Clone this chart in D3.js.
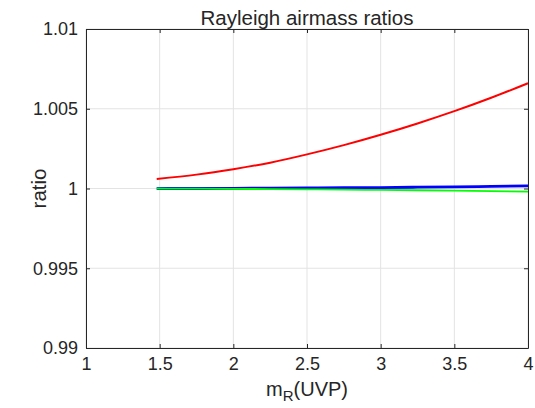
<!DOCTYPE html>
<html>
<head>
<meta charset="utf-8">
<script src="https://cdn.jsdelivr.net/npm/d3@7"></script>
<style>
  body { margin: 0; background: #fff; }
  svg text { font-family: "Liberation Sans", Arial, sans-serif; fill: #262626; }
</style>
</head>
<body>
<svg id="chart" width="535" height="408"></svg>
<script>
// airmass values (m_R(UVP)) and ratios
const mValues = [1.48, 1.75, 2.0, 2.25, 2.5, 2.75, 3.0, 3.25, 3.5, 3.75, 4.0];
const redRatio = [1.0006, 1.00087, 1.00121, 1.00162, 1.00214, 1.00272, 1.00337, 1.00408, 1.00485, 1.00569, 1.0066];
const blueRatio = [1.0, 1.0, 1.00001, 1.00002, 1.00003, 1.00005, 1.00006, 1.00008, 1.0001, 1.00013, 1.00016];
const greenRatio = [1.0, 0.99999, 0.99998, 0.99996, 0.99995, 0.99993, 0.99991, 0.99989, 0.99987, 0.99984, 0.9998];
const xTicks = [1, 1.5, 2, 2.5, 3, 3.5, 4];
const yTicks = [0.99, 0.995, 1, 1.005, 1.01];

const margin = { top: 29, right: 7, bottom: 60, left: 86 };
const width = 535 - margin.left - margin.right;
const height = 408 - margin.top - margin.bottom;

const svg = d3.select("#chart");
const g = svg.append("g").attr("transform", `translate(${margin.left},${margin.top})`);

const xScale = d3.scaleLinear().domain([1, 4]).range([0, width]);
const yScale = d3.scaleLinear().domain([0.99, 1.01]).range([height, 0]);

// grid
g.append("g")
  .selectAll("line")
  .data(xTicks)
  .join("line")
  .attr("x1", d => xScale(d)).attr("x2", d => xScale(d))
  .attr("y1", 0).attr("y2", height)
  .attr("stroke", "#e3e3e3").attr("stroke-width", 1);
g.append("g")
  .selectAll("line")
  .data(yTicks)
  .join("line")
  .attr("x1", 0).attr("x2", width)
  .attr("y1", d => yScale(d)).attr("y2", d => yScale(d))
  .attr("stroke", "#e3e3e3").attr("stroke-width", 1);

// series
const series = [
  { values: redRatio, color: "#ff0000", w: 2 },
  { values: blueRatio, color: "#0000ff", w: 2.8 },
  { values: greenRatio, color: "#00ff00", w: 1.8 }
];
const line = d3.line()
  .x(d => xScale(d[0]))
  .y(d => yScale(d[1]))
  .curve(d3.curveMonotoneX);
series.forEach(s => {
  g.append("path")
    .datum(mValues.map((m, i) => [m, s.values[i]]))
    .attr("fill", "none")
    .attr("stroke", s.color)
    .attr("stroke-width", s.w)
    .attr("d", line);
});

// axes (MATLAB style: ticks inside, box on)
const fmtY = d => String(+d.toFixed(3));
const xAxis = d3.axisBottom(xScale).tickValues(xTicks).tickSizeInner(-4).tickSizeOuter(0).tickPadding(9).tickFormat(d => d);
const yAxis = d3.axisLeft(yScale).tickValues(yTicks).tickSizeInner(-4).tickSizeOuter(0).tickPadding(8).tickFormat(fmtY);

g.append("g").attr("class", "axis").attr("transform", `translate(0,${height})`).call(xAxis);
g.append("g").attr("class", "axis").call(yAxis);
g.append("g").attr("class", "axis")
  .call(d3.axisTop(xScale).tickValues(xTicks).tickSizeInner(-4).tickSizeOuter(0).tickFormat(""));
g.append("g").attr("class", "axis").attr("transform", `translate(${width},0)`)
  .call(d3.axisRight(yScale).tickValues(yTicks).tickSizeInner(-4).tickSizeOuter(0).tickFormat(""));

g.selectAll(".axis path").attr("stroke", "#262626").attr("stroke-width", 1);
g.selectAll(".axis line").attr("stroke", "#262626");
g.selectAll(".axis text").attr("font-size", 18).attr("fill", "#333")
  .attr("font-family", "Liberation Sans, Arial, sans-serif");

// title and labels
svg.append("text")
  .attr("x", margin.left + width / 2).attr("y", 25)
  .attr("text-anchor", "middle").attr("font-size", 20.5)
  .text("Rayleigh airmass ratios");

svg.append("text")
  .attr("transform", `translate(46,${margin.top + height / 2}) rotate(-90)`)
  .attr("text-anchor", "middle").attr("font-size", 20.5)
  .text("ratio");

const xl = svg.append("text")
  .attr("x", margin.left + width / 2).attr("y", 396)
  .attr("text-anchor", "middle").attr("font-size", 20);
xl.append("tspan").text("m");
xl.append("tspan").attr("dy", 5).attr("font-size", 15).text("R");
xl.append("tspan").attr("dy", -5).text("(UVP)");
</script>
</body>
</html>
